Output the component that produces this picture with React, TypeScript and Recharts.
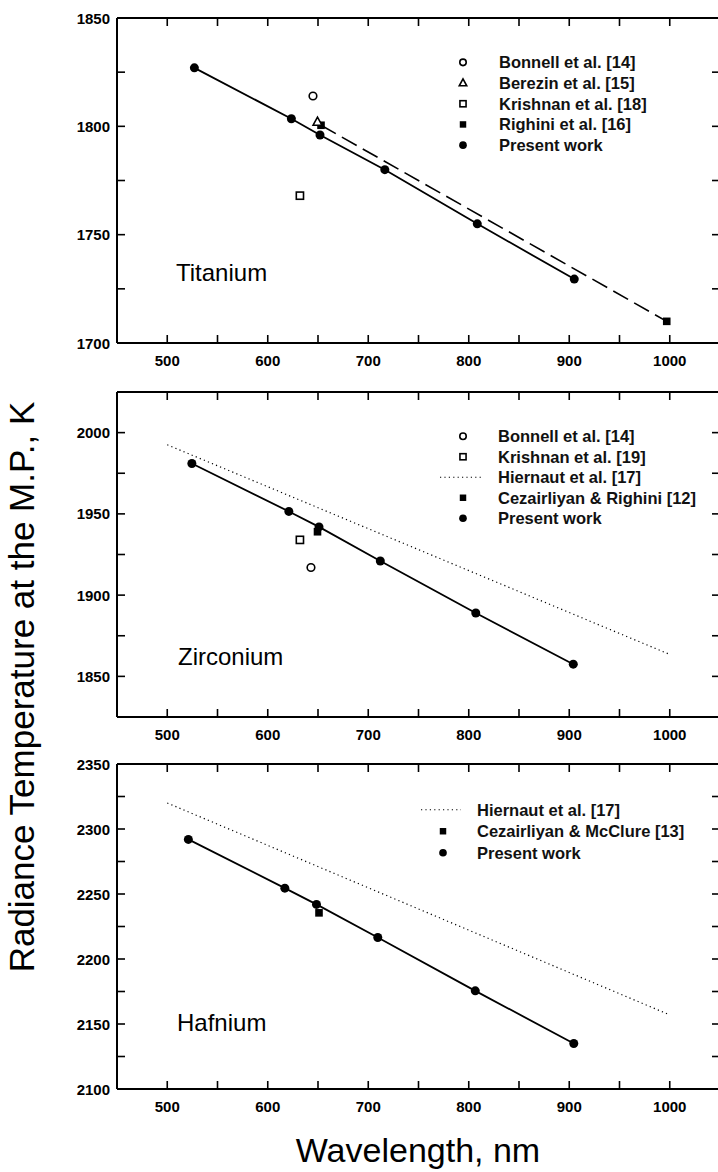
import React from 'react';
import { ScatterChart, Scatter, XAxis, YAxis, ReferenceLine, Legend } from 'recharts';

const FONT = "'Liberation Sans', Arial, Helvetica, sans-serif";

// shared x axis
const xTicks = [500, 550, 600, 650, 700, 750, 800, 850, 900, 950, 1000];
const xLabelTicks = [500, 600, 700, 800, 900, 1000];
const xDomain = [450, 1050];

// ---------- Titanium ----------
const tiYTicks = [1700, 1725, 1750, 1775, 1800, 1825, 1850];
const tiYLabels = [1700, 1750, 1800, 1850];
const tiPresentX = [527, 623.5, 652, 716.5, 808.5, 905];
const tiPresentY = [1827, 1803.5, 1796, 1780, 1755, 1729.5];
const tiBonnellX = [645];
const tiBonnellY = [1814];
const tiBerezinX = [649.5];
const tiBerezinY = [1802];
const tiKrishnanX = [632];
const tiKrishnanY = [1768];
const tiRighiniX = [653, 997];
const tiRighiniY = [1800.5, 1710];

// ---------- Zirconium ----------
const zrYTicks = [1850, 1875, 1900, 1925, 1950, 1975, 2000];
const zrYLabels = [1850, 1900, 1950, 2000];
const zrPresentX = [524.5, 621, 651, 712, 807, 904];
const zrPresentY = [1981, 1951.5, 1942, 1921, 1889, 1857.5];
const zrBonnellX = [643];
const zrBonnellY = [1917];
const zrKrishnanX = [632];
const zrKrishnanY = [1934];
const zrCezX = [649.5];
const zrCezY = [1939];
const zrHiernautX = [500, 1000];
const zrHiernautY = [1992.5, 1863.5];

// ---------- Hafnium ----------
const hfYTicks = [2100, 2125, 2150, 2175, 2200, 2225, 2250, 2275, 2300, 2325, 2350];
const hfYLabels = [2100, 2150, 2200, 2250, 2300, 2350];
const hfPresentX = [521, 617, 648.5, 709.5, 806.5, 904.5];
const hfPresentY = [2292, 2254.5, 2242, 2216.5, 2175.5, 2135];
const hfCezX = [651];
const hfCezY = [2235.5];
const hfHiernautX = [500, 1000];
const hfHiernautY = [2320, 2157];

const pts = (xs: number[], ys: number[]) => xs.map((x, i) => ({ x, y: ys[i] }));

type Marker = 'circleFilled' | 'circleOpen' | 'triangleOpen' | 'squareOpen' | 'squareFilled' | 'none';
type LineKind = 'solid' | 'dashed' | 'dotted' | undefined;

interface SeriesDef {
  name: string;
  xs: number[];
  ys: number[];
  marker: Marker;
  line?: LineKind;
}

const drawMarker = (marker: Marker, cx: number, cy: number, s: number) => {
  switch (marker) {
    case 'circleFilled':
      return <circle cx={cx} cy={cy} r={4.5 * s} fill="#000" />;
    case 'circleOpen':
      return <circle cx={cx} cy={cy} r={3.8 * s} fill="#fff" stroke="#000" strokeWidth={1.6} />;
    case 'squareOpen':
      return <rect x={cx - 3.6 * s} y={cy - 3.6 * s} width={7.2 * s} height={7.2 * s} fill="#fff" stroke="#000" strokeWidth={1.6} />;
    case 'squareFilled':
      return <rect x={cx - 3.8 * s} y={cy - 3.8 * s} width={7.6 * s} height={7.6 * s} fill="#000" />;
    case 'triangleOpen': {
      const h = 8 * s;
      return (
        <polygon
          points={`${cx},${cy - h * 0.6} ${cx - h * 0.55},${cy + h * 0.4} ${cx + h * 0.55},${cy + h * 0.4}`}
          fill="#fff"
          stroke="#000"
          strokeWidth={1.6}
        />
      );
    }
    default:
      return <g />;
  }
};

const lineStyle = (kind: LineKind) => {
  if (kind === 'solid') return { stroke: '#000', strokeWidth: 1.8 };
  if (kind === 'dashed') return { stroke: '#000', strokeWidth: 1.6, strokeDasharray: '17 7' };
  if (kind === 'dotted') return { stroke: '#000', strokeWidth: 1.2, strokeDasharray: '1.2 3.2' };
  return undefined;
};

const LEFT = 117;
const PLOT_W = 603;
const PLOT_H = 325;
const TICK_LEN = 8;
const MARGIN_TOP = 20;
const BOTTOM = 45;
const CHART_W = 740;

const XTick = (props: any) => {
  const { x, y, payload } = props;
  const v = payload.value;
  const labeled = xLabelTicks.includes(v);
  return (
    <g>
      <line x1={x} y1={y} x2={x} y2={y - TICK_LEN} stroke="#000" strokeWidth={1.6} />
      <line x1={x} y1={y - PLOT_H} x2={x} y2={y - PLOT_H + TICK_LEN} stroke="#000" strokeWidth={1.6} />
      {labeled && (
        <text x={x} y={y + 17} textAnchor="middle" dominantBaseline="central" fontFamily={FONT} fontSize={15} fontWeight="bold" fill="#000">
          {v}
        </text>
      )}
    </g>
  );
};

const makeYTick = (labels: number[]) => (props: any) => {
  const { x, y, payload } = props;
  const v = payload.value;
  const labeled = labels.includes(v);
  return (
    <g>
      <line x1={x} y1={y} x2={x + TICK_LEN} y2={y} stroke="#000" strokeWidth={1.6} />
      <line x1={x + PLOT_W} y1={y} x2={x + PLOT_W - TICK_LEN} y2={y} stroke="#000" strokeWidth={1.6} />
      {labeled && (
        <text x={x - 7} y={y} textAnchor="end" dominantBaseline="central" fontFamily={FONT} fontSize={15} fontWeight="bold" fill="#000">
          {v}
        </text>
      )}
    </g>
  );
};

interface LegendDef {
  left: number;
  top: number;
  rowH: number;
  markerX: number;
  textX: number;
  lineFrom: number;
  lineTo: number;
}

const LegendBox = ({ items, def }: { items: SeriesDef[]; def: LegendDef }) => {
  const h = items.length * def.rowH + 4;
  return (
    <svg width={300} height={h} style={{ display: 'block', overflow: 'visible' }}>
      {items.map((it, i) => {
        const cy = def.rowH / 2 + i * def.rowH;
        const isLineOnly = it.marker === 'none';
        return (
          <g key={it.name}>
            {isLineOnly ? (
              <line x1={def.lineFrom} y1={cy} x2={def.lineTo} y2={cy} {...(lineStyle(it.line) as any)} />
            ) : (
              drawMarker(it.marker, def.markerX, cy, 0.85)
            )}
            <text x={def.textX} y={cy} dominantBaseline="central" fontFamily={FONT} fontSize={16.5} fontWeight="bold" fill="#111">
              {it.name}
            </text>
          </g>
        );
      })}
    </svg>
  );
};

interface PanelProps {
  top: number;
  yDomain: number[];
  yTicks: number[];
  yLabels: number[];
  series: SeriesDef[];
  legendItems: SeriesDef[];
  legend: LegendDef;
  label: string;
  labelX: number;
  labelY: number;
}

const Panel = (p: PanelProps) => {
  const chartTop = p.top - MARGIN_TOP;
  return (
    <>
      <div style={{ position: 'absolute', left: 0, top: chartTop }}>
        <ScatterChart
          width={CHART_W}
          height={MARGIN_TOP + PLOT_H + BOTTOM}
          margin={{ top: MARGIN_TOP, right: CHART_W - LEFT - PLOT_W, bottom: 0, left: 0 }}
        >
          <XAxis
            dataKey="x"
            type="number"
            domain={xDomain}
            ticks={xTicks}
            interval={0}
            height={BOTTOM}
            tickSize={0}
            tickMargin={0}
            tickLine={false}
            allowDataOverflow
            axisLine={{ stroke: '#000', strokeWidth: 2 }}
            tick={XTick}
          />
          <YAxis
            dataKey="y"
            type="number"
            domain={p.yDomain}
            ticks={p.yTicks}
            interval={0}
            width={LEFT}
            tickSize={0}
            tickMargin={0}
            tickLine={false}
            allowDataOverflow
            axisLine={{ stroke: '#000', strokeWidth: 2 }}
            tick={makeYTick(p.yLabels)}
          />
          <ReferenceLine y={p.yDomain[1]} stroke="#000" strokeWidth={2} />
          <ReferenceLine x={xDomain[1]} stroke="#000" strokeWidth={2} />
          {p.series.map((s) => (
            <Scatter
              key={s.name}
              name={s.name}
              data={pts(s.xs, s.ys)}
              isAnimationActive={false}
              line={s.line ? (lineStyle(s.line) as any) : false}
              lineType="joint"
              shape={(props: any) => drawMarker(s.marker, props.cx, props.cy, 1)}
            />
          ))}
          <Legend
            layout="vertical"
            align="center"
            verticalAlign="middle"
            wrapperStyle={{ left: p.legend.left, top: p.legend.top - chartTop, width: 300 }}
            content={() => <LegendBox items={p.legendItems} def={p.legend} />}
          />
        </ScatterChart>
      </div>
      <div
        style={{
          position: 'absolute',
          left: p.labelX,
          top: p.labelY - 15,
          height: 30,
          lineHeight: '30px',
          fontFamily: FONT,
          fontSize: 24,
          color: '#000',
          whiteSpace: 'nowrap',
        }}
      >
        {p.label}
      </div>
    </>
  );
};

// series definitions
const tiPresent: SeriesDef = { name: 'Present work', xs: tiPresentX, ys: tiPresentY, marker: 'circleFilled', line: 'solid' };
const tiBonnell: SeriesDef = { name: 'Bonnell et al. [14]', xs: tiBonnellX, ys: tiBonnellY, marker: 'circleOpen' };
const tiBerezin: SeriesDef = { name: 'Berezin et al. [15]', xs: tiBerezinX, ys: tiBerezinY, marker: 'triangleOpen' };
const tiKrishnan: SeriesDef = { name: 'Krishnan et al. [18]', xs: tiKrishnanX, ys: tiKrishnanY, marker: 'squareOpen' };
const tiRighini: SeriesDef = { name: 'Righini et al. [16]', xs: tiRighiniX, ys: tiRighiniY, marker: 'squareFilled', line: 'dashed' };

const zrPresent: SeriesDef = { name: 'Present work', xs: zrPresentX, ys: zrPresentY, marker: 'circleFilled', line: 'solid' };
const zrBonnell: SeriesDef = { name: 'Bonnell et al. [14]', xs: zrBonnellX, ys: zrBonnellY, marker: 'circleOpen' };
const zrKrishnan: SeriesDef = { name: 'Krishnan et al. [19]', xs: zrKrishnanX, ys: zrKrishnanY, marker: 'squareOpen' };
const zrHiernaut: SeriesDef = { name: 'Hiernaut et al. [17]', xs: zrHiernautX, ys: zrHiernautY, marker: 'none', line: 'dotted' };
const zrCez: SeriesDef = { name: 'Cezairliyan & Righini [12]', xs: zrCezX, ys: zrCezY, marker: 'squareFilled' };

const hfHiernaut: SeriesDef = { name: 'Hiernaut et al. [17]', xs: hfHiernautX, ys: hfHiernautY, marker: 'none', line: 'dotted' };
const hfCez: SeriesDef = { name: 'Cezairliyan & McClure [13]', xs: hfCezX, ys: hfCezY, marker: 'squareFilled' };
const hfPresent: SeriesDef = { name: 'Present work', xs: hfPresentX, ys: hfPresentY, marker: 'circleFilled', line: 'solid' };

export default function App() {
  return (
    <div
      style={{
        position: 'absolute',
        left: 0,
        top: 0,
        width: 718,
        height: 1172,
        overflow: 'hidden',
        background: '#fff',
        fontFamily: FONT,
      }}
    >
      <Panel
        top={18}
        yDomain={[1700, 1850]}
        yTicks={tiYTicks}
        yLabels={tiYLabels}
        series={[tiRighini, tiPresent, tiBonnell, tiBerezin, tiKrishnan]}
        legendItems={[tiBonnell, tiBerezin, tiKrishnan, tiRighini, tiPresent]}
        legend={{ left: 420, top: 52, rowH: 20.7, markerX: 43, textX: 79, lineFrom: 20, lineTo: 62 }}
        label="Titanium"
        labelX={176}
        labelY={273}
      />
      <Panel
        top={392}
        yDomain={[1825, 2025]}
        yTicks={zrYTicks}
        yLabels={zrYLabels}
        series={[zrHiernaut, zrPresent, zrCez, zrBonnell, zrKrishnan]}
        legendItems={[zrBonnell, zrKrishnan, zrHiernaut, zrCez, zrPresent]}
        legend={{ left: 420, top: 426, rowH: 20.5, markerX: 43, textX: 78, lineFrom: 20, lineTo: 62 }}
        label="Zirconium"
        labelX={178}
        labelY={657}
      />
      <Panel
        top={764}
        yDomain={[2100, 2350]}
        yTicks={hfYTicks}
        yLabels={hfYLabels}
        series={[hfHiernaut, hfPresent, hfCez]}
        legendItems={[hfHiernaut, hfCez, hfPresent]}
        legend={{ left: 400, top: 799, rowH: 21.5, markerX: 43, textX: 77, lineFrom: 21, lineTo: 61 }}
        label="Hafnium"
        labelX={177}
        labelY={1023}
      />
      <div
        style={{
          position: 'absolute',
          left: 22 - 350,
          top: 687 - 22,
          width: 700,
          height: 44,
          lineHeight: '44px',
          textAlign: 'center',
          fontFamily: FONT,
          fontSize: 35,
          color: '#000',
          transform: 'rotate(-90deg)',
          whiteSpace: 'nowrap',
        }}
      >
        Radiance Temperature at the M.P., K
      </div>
      <div
        style={{
          position: 'absolute',
          left: 418 - 200,
          top: 1150 - 22,
          width: 400,
          height: 44,
          lineHeight: '44px',
          textAlign: 'center',
          fontFamily: FONT,
          fontSize: 34,
          color: '#000',
          whiteSpace: 'nowrap',
        }}
      >
        Wavelength, nm
      </div>
    </div>
  );
}
